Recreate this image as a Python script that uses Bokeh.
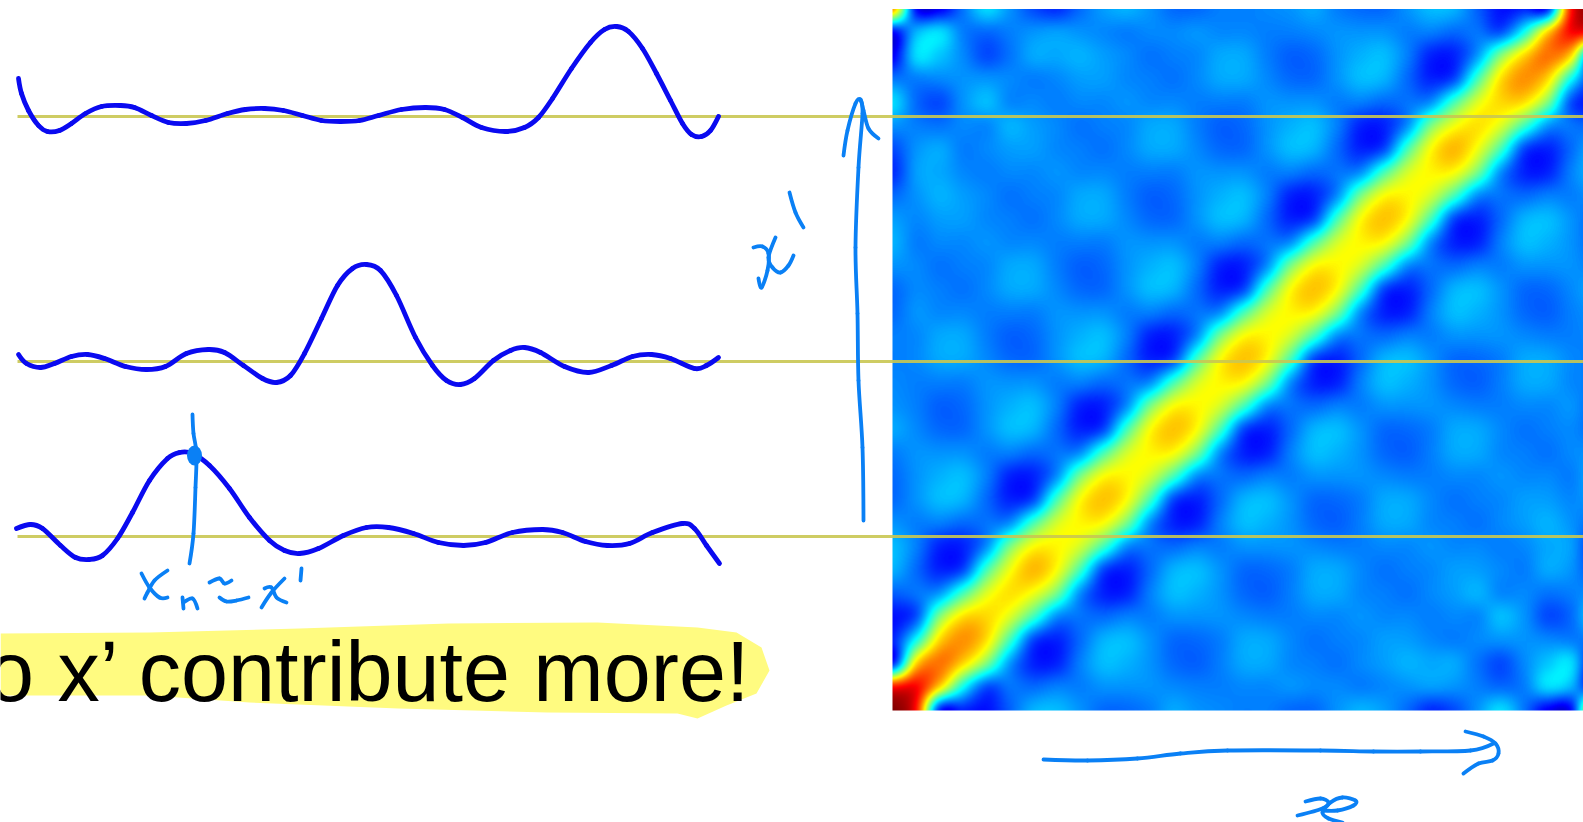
import numpy as np
from bokeh.plotting import figure
from bokeh.models import LinearColorMapper
from bokeh.core.properties import value
from bokeh.embed import file_html
from bokeh.resources import INLINE

# ---- heat map: values x100, one list per band above the
# main diagonal (band k holds cells (i, i+k)); the matrix is symmetric
band_00 = [100,87,76,73,66,65,69,63,63,68,63,63,68,63,63,68,63,63,68,63,63,68,63,63,69,65,66,73,76,87,100]
band_01 = [85,66,66,65,59,61,62,58,62,62,58,62,62,58,62,62,58,62,62,58,62,62,58,62,61,59,65,66,66,85]
band_02 = [17,39,50,44,44,49,44,44,49,44,44,49,44,44,49,44,44,49,44,44,49,44,44,49,44,44,50,39,17]
band_03 = [16,21,28,20,27,27,20,27,27,20,27,27,20,27,27,20,27,27,20,27,27,20,27,27,20,28,21,16]
band_04 = [14,24,16,16,24,16,16,24,16,16,24,16,16,24,16,16,24,16,16,24,16,16,24,16,16,24,14]
band_05 = [22,23,16,23,23,16,23,23,16,23,23,16,23,23,16,23,23,16,23,23,16,23,23,16,23,22]
band_06 = [30,25,25,30,25,25,30,25,25,30,25,25,30,25,25,30,25,25,30,25,25,30,25,25,30]
band_07 = [31,25,31,31,25,31,31,25,31,31,25,31,31,25,31,31,25,31,31,25,31,31,25,31]
band_08 = [27,27,30,27,27,30,27,27,30,27,27,30,27,27,30,27,27,30,27,27,30,27,27]
band_09 = [23,27,27,23,27,27,23,27,27,23,27,27,23,27,27,23,27,27,23,27,27,23]
band_10 = [23,27,23,23,27,23,23,27,23,23,27,23,23,27,23,23,27,23,23,27,23]
band_11 = [25,26,22,25,26,22,25,26,22,25,26,22,25,26,22,25,26,22,26,25]
band_12 = [29,25,25,29,25,25,29,25,25,29,25,25,29,25,25,29,25,25,29]
band_13 = [27,25,29,29,25,29,29,25,29,29,25,29,29,25,29,29,25,27]
band_14 = [26,26,29,26,26,29,26,26,29,26,26,29,26,26,29,26,26]
band_15 = [25,26,26,24,26,26,24,26,26,24,26,26,24,26,26,25]
band_16 = [25,27,25,25,27,25,25,27,25,25,27,25,25,27,25]
band_17 = [23,26,24,26,26,24,26,26,24,26,26,24,26,23]
band_18 = [23,26,26,28,26,26,28,26,26,28,26,26,23]
band_19 = [27,25,28,28,25,28,28,25,28,28,25,27]
band_20 = [30,26,30,26,26,30,26,26,30,26,30]
band_21 = [28,27,29,25,26,26,25,29,27,28]
band_22 = [23,28,29,26,31,26,29,28,23]
band_23 = [17,27,24,27,27,24,27,17]
band_24 = [20,25,20,27,20,25,20]
band_25 = [27,23,26,26,23,27]
band_26 = [34,25,32,25,34]
band_27 = [24,34,34,24]
band_28 = [12,30,12]
band_29 = [14,14]
band_30 = [72]
heat_bands = [band_00,band_01,band_02,band_03,band_04,band_05,band_06,band_07,band_08,band_09,
              band_10,band_11,band_12,band_13,band_14,band_15,band_16,band_17,band_18,band_19,
              band_20,band_21,band_22,band_23,band_24,band_25,band_26,band_27,band_28,band_29,band_30]

# ---- the three curves: x and height above their own base line
curve1_x = [18,21,28,38,47,59,71,85,101,120,134,151,168,186,205,227,245,264,283,302,321,340,359,378,401,425,444,462,481,505,524,538,552,571,590,604,616,628,642,656,670,682,691,701,710,718]
curve1_v = [38,23,6,-9,-15,-14,-7,3,10,11,9,1,-6,-7,-4,3,7,8,6,1,-4,-5,-4,1,7,9,7,-1,-11,-15,-11,-1,18,48,74,87,90,85,68,43,16,-7,-18,-20,-14,0]
curve2_x = [18,26,40,54,71,87,104,125,146,165,186,208,224,243,262,276,290,304,321,337,352,366,380,396,415,432,446,460,474,493,510,524,540,564,588,611,632,651,670,694,706,718]
curve2_v = [7,-2,-6,-2,5,7,3,-5,-8,-5,8,12,9,-4,-17,-21,-14,8,43,76,93,97,91,66,24,-4,-19,-23,-17,1,11,14,9,-5,-11,-4,5,7,3,-7,-4,4]
curve3_x = [16,30,42,60,75,89,102,117,132,149,167,179,192,209,229,249,269,284,299,318,343,366,388,413,438,463,485,512,542,562,585,607,629,652,682,694,706,719]
curve3_v = [8,12,8,-9,-21,-23,-19,-2,24,56,78,84,83,71,48,19,-4,-14,-17,-12,1,9,9,3,-6,-9,-6,4,7,4,-5,-9,-7,4,13,8,-9,-27]
baselines = [116, 361, 536]

headline = "o x\u2019 contribute more!"

H = 822
def Y(v):
    return H - np.asarray(v, dtype=float)

p = figure(width=1583, height=822, x_range=(0, 1583), y_range=(0, 822),
           output_backend="svg", toolbar_location=None, min_border=0,
           background_fill_color="white", border_fill_color="white")
p.axis.visible = False
p.grid.visible = False
p.outline_line_color = None

# heat map
M = np.zeros((31, 31))
for d, band in enumerate(heat_bands):
    for i, v in enumerate(band):
        M[i + d, i] = v
        M[i, i + d] = v
M = M / 100.0

def resample(A, n):
    # the reference shows a smoothly scaled image, so scale the grid smoothly too
    t = np.linspace(0, A.shape[0] - 1, n)
    i = np.clip(np.floor(t).astype(int), 0, A.shape[0] - 2)
    f = (t - i)[:, None]
    ix = [np.clip(i + k, 0, A.shape[0] - 1) for k in (-1, 0, 1, 2)]
    w = [-0.5*f + f*f - 0.5*f**3, 1 - 2.5*f*f + 1.5*f**3, 0.5*f + 2*f*f - 1.5*f**3, -0.5*f*f + 0.5*f**3]
    return sum(w[k] * A[ix[k]] for k in range(4))

S = resample(resample(M, 702).T, 702).T
v = np.linspace(0, 1, 256)
r = np.clip(np.minimum(4*v - 1.5, -4*v + 4.5), 0, 1)
g = np.clip(np.minimum(4*v - 0.5, -4*v + 3.5), 0, 1)
b = np.clip(np.minimum(4*v + 0.5, -4*v + 2.5), 0, 1)
jet = ["#%02x%02x%02x" % (int(a*255), int(c*255), int(e*255)) for a, c, e in zip(r, g, b)]
p.image(image=[S], x=892, y=H-710, dw=701.5, dh=701.5,
        color_mapper=LinearColorMapper(palette=jet, low=0, high=1))

# highlight and headline
hx = [0,149,299,448,597,697,736,761,769,756,726,697,677,547,398,249,149,50,0]
hy = [633,632,628,623,622,627,632,647,670,693,705,718,713,712,708,702,695,695,695]
p.patch(hx, Y(hy), fill_color="#fffb80", line_color=None)
p.text(x=[752], y=Y([702 - 31]), text=[headline], text_font=value("Liberation Sans"),
       text_font_size=value("84.5px"), text_color="#000000", text_align="right", text_baseline="alphabetic")

# base lines
for b0 in baselines:
    p.line([17, 1583], Y([b0, b0]), line_color="#c9c652", line_width=2.8, line_alpha=0.9)

def smooth(sx, sy, color, width):
    # bezier segments running through the read points
    P = np.column_stack([np.asarray(sx, float), np.asarray(sy, float)])
    m = np.zeros_like(P)
    m[1:-1] = (P[2:] - P[:-2]) / 6.0
    c0 = P[:-1] + m[:-1]
    c1 = P[1:] - m[1:]
    p.bezier(x0=P[:-1, 0], y0=P[:-1, 1], x1=P[1:, 0], y1=P[1:, 1],
             cx0=c0[:, 0], cy0=c0[:, 1], cx1=c1[:, 0], cy1=c1[:, 1],
             line_color=color, line_width=width, line_cap="round")

# curves
for cx, cv, b0 in ((curve1_x, curve1_v, baselines[0]), (curve2_x, curve2_v, baselines[1]), (curve3_x, curve3_v, baselines[2])):
    smooth(cx, Y(b0) + np.asarray(cv), "#0a0af0", 4.8)

# pen strokes
pen = [
    ([192,193,196,195,193,189],[414,433,453,487,533,563]),
    ([167,154,147,144],[570,580,592,598]),
    ([141,149,159,167],[573,587,597,597]),
    ([182,183],[597,608]),
    ([183,192,197],[602,598,608]),
    ([209,219,224,231],[582,578,583,580]),
    ([219,226,236,248],[597,601,600,597]),
    ([264,271,276,286],[588,587,597,602]),
    ([284,271,261],[578,592,607]),
    ([301,300],[568,580]),
    ([863,862,858,857,855,858,862,860],[520,447,380,313,247,167,113,100]),
    ([843,847,855,860,863,868,878],[155,130,103,99,110,128,138]),
    ([753,762,768,767,761,758],[247,246,253,270,287,278]),
    ([775,768,772,780,788,793],[237,257,267,272,265,255]),
    ([789,795,803],[192,212,227]),
    ([1043,1087,1137,1180,1227,1320,1373,1420,1470,1493],[759,760,758,753,750,750,751,751,750,743]),
    ([1465,1483,1495,1498,1492,1478,1463],[731,736,743,753,760,763,773]),
    ([1305,1320,1328,1322,1297],[801,798,802,808,815]),
    ([1322,1337,1353,1355,1342,1330,1322,1328,1342],[810,810,805,800,797,802,812,818,822]),
]
for sx, sy in pen:
    smooth(sx, Y(sy), "#0a80f5", 3.8)
p.ellipse(x=[194], y=Y([455]), width=15, height=20, fill_color="#0a80f5", line_color=None)

open("out.html", "w").write(file_html(p, INLINE))
